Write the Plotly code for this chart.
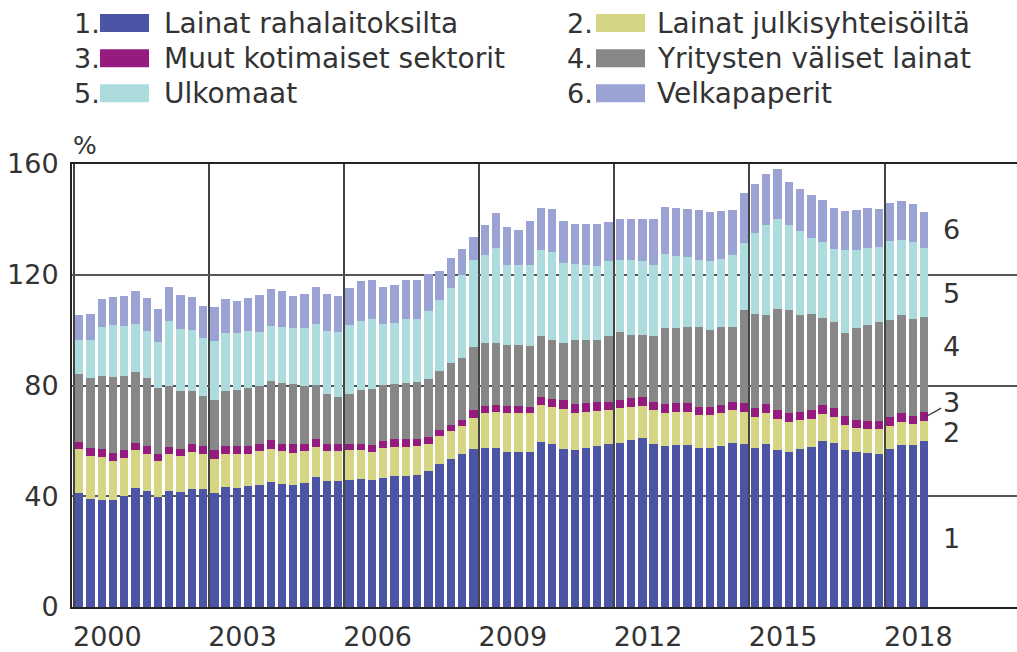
import plotly.graph_objects as go

# ---------------- data (quarterly, 2000Q1 - 2018Q4, % ) ----------------
years = list(range(2000, 2019))
quarters = [f"{y}Q{q}" for y in years for q in range(1, 5)]

lainat_rahalaitoksilta = [
    41.3, 39.0, 38.8, 38.8, 40.2, 43.1, 41.9, 39.8, 41.9, 41.4, 42.8, 42.8,
    41.1, 43.2, 42.9, 43.6, 44.1, 45.2, 44.6, 44.1, 44.9, 47.0, 45.4, 45.6,
    46.0, 46.1, 45.7, 46.6, 47.3, 47.3, 47.7, 49.0, 51.8, 53.6, 55.1, 56.9,
    57.3, 57.3, 56.1, 55.9, 55.9, 59.5, 58.9, 57.2, 56.7, 57.3, 58.2, 58.8,
    59.4, 60.4, 61.0, 58.9, 58.2, 58.6, 58.6, 57.6, 57.3, 58.2, 59.4, 58.8,
    57.6, 58.9, 56.7, 55.9, 57.2, 57.7, 59.8, 59.2, 56.7, 56.0, 55.8, 55.3,
    57.0, 58.6, 58.6, 60.1]
lainat_julkisyhteisoilta = [
    15.8, 15.7, 15.3, 13.9, 13.5, 13.5, 13.5, 13.1, 13.4, 13.3, 13.1, 12.6,
    12.5, 12.2, 12.5, 11.8, 12.2, 11.9, 11.7, 11.6, 11.4, 10.8, 10.9, 10.7,
    10.6, 10.5, 10.4, 10.9, 10.5, 10.5, 10.4, 10.0, 9.9, 10.1, 10.2, 11.4,
    12.8, 13.1, 13.9, 14.1, 14.1, 13.3, 13.3, 14.2, 13.5, 13.3, 12.6, 12.2,
    12.4, 12.0, 11.7, 12.3, 11.8, 12.0, 12.0, 11.6, 11.9, 11.8, 11.6, 11.6,
    11.2, 11.3, 11.3, 10.8, 10.4, 10.1, 10.0, 9.6, 9.1, 8.6, 8.4, 8.9,
    8.5, 8.1, 7.4, 7.2]
muut_kotimaiset = [
    2.5, 2.8, 2.8, 3.0, 2.9, 2.7, 2.9, 2.5, 2.5, 2.4, 2.8, 2.9,
    3.0, 2.9, 2.9, 2.9, 2.7, 3.1, 2.7, 3.3, 2.7, 2.9, 2.7, 2.7,
    2.4, 2.4, 2.5, 2.6, 2.7, 2.7, 2.6, 2.3, 2.4, 2.2, 2.4, 2.7,
    2.4, 2.4, 2.6, 2.6, 2.4, 3.2, 3.0, 3.2, 3.2, 3.0, 3.1, 3.2,
    3.0, 3.0, 3.1, 2.8, 3.3, 3.0, 3.0, 3.0, 3.0, 3.0, 3.0, 3.2,
    3.0, 3.1, 3.0, 3.3, 3.0, 3.2, 3.0, 3.0, 3.2, 3.0, 3.1, 3.1,
    3.3, 3.3, 3.0, 3.1]
yritysten_valiset = [
    24.4, 25.3, 26.5, 27.4, 26.8, 25.6, 24.5, 23.8, 22.2, 20.9, 19.3, 17.8,
    18.3, 19.7, 20.0, 20.9, 20.8, 21.6, 22.0, 21.7, 20.8, 19.4, 18.1, 16.9,
    18.1, 19.2, 20.0, 20.0, 20.1, 20.5, 20.5, 20.9, 21.3, 22.1, 22.3, 22.9,
    22.9, 22.7, 22.1, 22.1, 21.9, 21.7, 21.3, 20.7, 23.1, 22.9, 22.6, 23.5,
    24.7, 22.9, 22.5, 24.0, 27.4, 27.1, 27.7, 29.1, 27.9, 28.0, 27.1, 33.7,
    34.0, 32.2, 36.7, 37.3, 34.9, 34.9, 31.5, 31.3, 29.9, 33.1, 34.4, 35.5,
    34.9, 35.3, 35.0, 34.2]
ulkomaat = [
    12.3, 13.5, 17.6, 18.6, 18.0, 17.4, 16.8, 16.5, 23.3, 22.5, 22.0, 21.1,
    21.1, 21.0, 20.7, 20.4, 19.7, 19.6, 20.1, 20.1, 21.0, 22.2, 22.5, 23.5,
    24.7, 25.1, 25.6, 22.2, 22.1, 22.9, 22.9, 24.7, 25.4, 27.3, 29.8, 31.4,
    31.9, 34.3, 29.0, 28.8, 29.2, 31.1, 31.6, 28.9, 27.5, 27.1, 26.8, 27.1,
    25.9, 27.1, 26.8, 25.6, 26.8, 26.2, 25.1, 24.1, 25.0, 24.8, 26.1, 24.1,
    29.3, 32.6, 32.4, 30.5, 30.2, 27.4, 27.7, 26.2, 29.9, 28.3, 27.9, 27.2,
    28.6, 27.4, 28.0, 25.0]
velkapaperit = [
    9.0, 9.4, 10.1, 10.2, 11.1, 12.0, 12.1, 11.8, 12.2, 12.3, 11.9, 11.5,
    12.3, 12.1, 11.7, 12.0, 13.2, 13.5, 12.9, 11.7, 12.3, 13.2, 13.5, 13.1,
    13.5, 14.3, 13.8, 13.2, 13.7, 14.2, 14.0, 13.5, 10.5, 10.6, 9.4, 8.3,
    10.7, 12.4, 13.5, 12.5, 15.8, 15.3, 15.6, 15.1, 14.4, 14.8, 15.0, 14.2,
    14.8, 14.8, 15.1, 16.6, 16.8, 17.2, 17.3, 18.1, 17.4, 17.1, 16.3, 18.1,
    17.8, 18.4, 18.1, 15.6, 15.3, 15.4, 15.1, 14.8, 14.1, 14.3, 14.5, 13.7,
    13.6, 14.0, 13.5, 12.9]

series_names = ["Lainat rahalaitoksilta", "Lainat julkisyhteisöiltä",
                "Muut kotimaiset sektorit", "Yritysten väliset lainat",
                "Ulkomaat", "Velkapaperit"]
series_values = [lainat_rahalaitoksilta, lainat_julkisyhteisoilta, muut_kotimaiset,
                 yritysten_valiset, ulkomaat, velkapaperit]
series_colors = ["#4b54a5", "#d5d583", "#961b7e", "#878787", "#addcdf", "#9ba2d4"]
tick_years = [2000, 2003, 2006, 2009, 2012, 2015, 2018]
side_labels = ["1", "2", "3", "4", "5", "6"]
side_label_values = [24.8, 63.2, 73.3, 94.2, 113.1, 136.5]

# ---------------- layout geometry ----------------
W, H = 1017, 652
ML, MR, MT, MB = 72, 0, 164, 45
FONT = "DejaVu Sans"
FS = 27
TXT = "#333333"
plot_w = W - ML - MR
plot_h = H - MT - MB


def px(xp):
    return (xp - ML) / plot_w


def py(yp):
    return (H - MB - yp) / plot_h


x_idx = list(range(len(quarters)))
fig = go.Figure()
for name, vals, col in zip(series_names, series_values, series_colors):
    fig.add_trace(go.Bar(x=x_idx, y=vals, name=name, marker=dict(color=col, line=dict(width=0)),
                         customdata=quarters,
                         hovertemplate="%{customdata}: %{y:.1f} %<extra>" + name + "</extra>"))

year_start = [(y - 2000) * 4 - 0.5 for y in tick_years]
label_half = 3.0  # shift so the year label starts at the year boundary

fig.update_layout(
    width=W, height=H, barmode="stack", bargap=0.26,
    margin=dict(l=ML, r=MR, t=MT, b=MB),
    paper_bgcolor="white", plot_bgcolor="white",
    showlegend=False,
    font=dict(family=FONT, size=FS, color=TXT),
    xaxis=dict(range=[-0.64, 83.26], showgrid=False, zeroline=False,
               tickmode="array", tickvals=[s + label_half for s in year_start],
               ticktext=[str(y) for y in tick_years], ticks="", ticklabelstandoff=5,
               showline=True, linecolor="#222222", linewidth=2, mirror=True,
               minor=dict(tickmode="linear", tick0=-0.5, dtick=12, showgrid=True,
                          gridcolor="#444444", gridwidth=1.5, ticks=""),
               tickfont=dict(family=FONT, size=FS, color=TXT)),
    yaxis=dict(range=[0, 160], tickmode="linear", tick0=0, dtick=40,
               showgrid=True, gridcolor="#555555", gridwidth=1.5, zeroline=False,
               showline=True, linecolor="#222222", linewidth=2, ticks="",
               ticklabelstandoff=6, tickfont=dict(family=FONT, size=FS, color=TXT)),
)

# "%" unit label
fig.add_annotation(x=px(85), y=py(145), xref="paper", yref="paper", text="%",
                   showarrow=False, xanchor="center", yanchor="middle",
                   font=dict(family=FONT, size=FS - 2, color=TXT))

# right-side series numbers
for lab, val in zip(side_labels, side_label_values):
    if lab == "3":
        fig.add_annotation(x=75.2, y=68.8, xref="x", yref="y", text=lab,
                           showarrow=True, arrowhead=0, arrowwidth=1.2, arrowcolor="#333333",
                           ax=25, ay=-14, standoff=0,
                           font=dict(family=FONT, size=FS, color=TXT))
    else:
        fig.add_annotation(x=px(951), y=val, xref="paper", yref="y", text=lab,
                           showarrow=False, xanchor="center", yanchor="middle",
                           font=dict(family=FONT, size=FS, color=TXT))

# legend (two columns, number + colour box + text)
col_x = [(72, 100, 162), (565, 596, 655)]
row_y = [23, 58.3, 93.3]
for i, (name, col) in enumerate(zip(series_names, series_colors)):
    c = i % 2
    r = i // 2
    nx, bx, tx = col_x[c]
    yc = row_y[r]
    fig.add_annotation(x=px(nx), y=py(yc), xref="paper", yref="paper", text=f"{i + 1}.",
                       showarrow=False, xanchor="left", yanchor="middle",
                       font=dict(family=FONT, size=FS, color=TXT))
    fig.add_shape(type="rect", xref="paper", yref="paper",
                  x0=px(bx), x1=px(bx + 49), y0=py(yc + 9), y1=py(yc - 9),
                  fillcolor=col, line=dict(width=0))
    fig.add_annotation(x=px(tx), y=py(yc), xref="paper", yref="paper", text=name,
                       showarrow=False, xanchor="left", yanchor="middle",
                       font=dict(family=FONT, size=FS + 1, color=TXT))

fig.write_html("out.html", config={"displayModeBar": False},
               post_script="document.body.style.margin='0px';document.body.style.overflow='hidden';")
